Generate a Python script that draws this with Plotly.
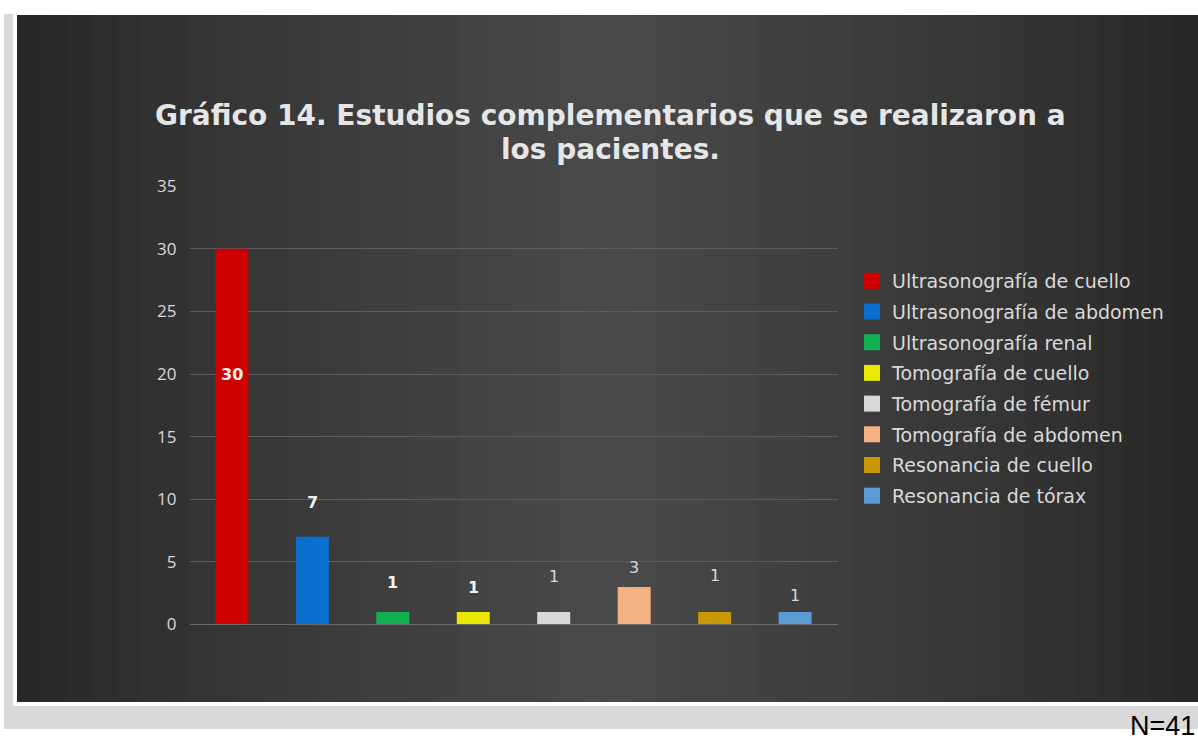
import plotly.graph_objects as go

categories = ["Ultrasonografía de cuello", "Ultrasonografía de abdomen", "Ultrasonografía renal",
              "Tomografía de cuello", "Tomografía de fémur", "Tomografía de abdomen",
              "Resonancia de cuello", "Resonancia de tórax"]
values = [30, 7, 1, 1, 1, 3, 1, 1]
colors = ["#d00000", "#0a70d0", "#10b050", "#e8e800", "#d9d9d9", "#f4b183", "#c99700", "#5b9bd5"]
label_bold = [True, True, True, True, False, False, False, False]
label_yshift = [62, 34, 29, 24, 35, 19, 36, 16]   # label offsets in px (styling)
y_ticks = [0, 5, 10, 15, 20, 25, 30, 35]

W, H = 1198, 740
Y_OFF, Y_SPAN = 10, 720   # observed vertical placement of the rendered figure
def px(x): return x / W
def py(y): return 1 - (y - Y_OFF) / Y_SPAN

fig = go.Figure()
for c, v, col in zip(categories, values, colors):
    fig.add_trace(go.Bar(x=[c], y=[v], name=c, marker=dict(color=col, line=dict(width=0)),
                         width=0.41, showlegend=False, hoverinfo="x+y"))
for c, col in zip(categories, colors):
    fig.add_trace(go.Scatter(x=[c], y=[None], mode="markers", name=c, legendgroup=c,
                             marker=dict(symbol="square", size=16, color=col),
                             hoverinfo="skip"))

shapes = []
shapes.append(dict(type="rect", xref="paper", yref="paper", x0=px(4), x1=px(13), y0=0, y1=py(12),
                   fillcolor="#dadada", line=dict(width=0), layer="below"))
shapes.append(dict(type="rect", xref="paper", yref="paper", x0=px(4), x1=1, y0=0, y1=py(707),
                   fillcolor="#d9d9d9", line=dict(width=0), layer="below"))
n = 48
x0p, x1p = 17, 1198
for i in range(n):
    a = x0p + (x1p - x0p) * i / n
    b = x0p + (x1p - x0p) * (i + 1) / n + 1
    t = (i + 0.5) / n
    d = 1 - abs(t - 0.5) * 2
    g = int(38 + 36 * (d ** 0.8))
    shapes.append(dict(type="rect", xref="paper", yref="paper", x0=px(a), x1=px(min(b, W)),
                       y0=py(703), y1=py(13), fillcolor=f"rgb({g},{g},{g})",
                       line=dict(width=0), layer="below"))

annotations = []
for i, (c, v, b) in enumerate(zip(categories, values, label_bold)):
    txt = f"<b>{v}</b>" if b else str(v)
    yv = v / 2 if v >= 20 else v
    annotations.append(dict(x=c, y=yv, text=txt, showarrow=False, yanchor="middle",
                            yshift=label_yshift[i],
                            font=dict(size=16, color="#f2f2f2" if b else "#d9d9d9",
                                      family="DejaVu Sans")))
annotations.append(dict(xref="paper", yref="paper", x=px(1197), y=py(727), xanchor="right",
                        yanchor="middle", text="N=41", showarrow=False,
                        font=dict(size=27, color="#000000", family="Liberation Sans")))
annotations.append(dict(xref="paper", yref="paper", x=px(610), y=py(114), xanchor="center",
                        yanchor="middle", showarrow=False,
                        text="<b>Gráfico 14. Estudios complementarios que se realizaron a</b>",
                        font=dict(size=28, color="#e6e6e6", family="DejaVu Sans")))
annotations.append(dict(xref="paper", yref="paper", x=px(610), y=py(148), xanchor="center",
                        yanchor="middle", showarrow=False,
                        text="<b>los pacientes.</b>",
                        font=dict(size=28, color="#e6e6e6", family="DejaVu Sans")))

fig.update_layout(
    width=W, height=H,
    margin=dict(l=0, r=0, t=0, b=0),
    paper_bgcolor="#ffffff",
    plot_bgcolor="rgba(0,0,0,0)",
    barmode="overlay",
    shapes=shapes,
    annotations=annotations,
    showlegend=True,
    legend=dict(x=px(852), y=py(261), xanchor="left", yanchor="top",
                font=dict(size=19, color="#d9d9d9", family="DejaVu Sans"),
                bgcolor="rgba(0,0,0,0)", tracegroupgap=3, itemwidth=30,
                itemsizing="trace"),
    xaxis=dict(domain=[px(189.5), px(837.5)], showticklabels=False, showgrid=False,
               zeroline=False, showline=True, linecolor="#6a6a6a", linewidth=1,
               categoryorder="array", categoryarray=categories),
    yaxis=dict(domain=[py(625), py(185)], range=[0, 35], tickvals=y_ticks,
               showgrid=True, gridcolor="#5c5c5c", gridwidth=1, zeroline=False,
               tickfont=dict(size=17, color="#d9d9d9", family="Open Sans"),
               ticks="", ticklabelstandoff=12),
)

fig.write_html("out.html", post_script=(
    "document.documentElement.style.background='linear-gradient(to bottom,#ffffff 50%,#d9d9d9 50%)';"
    "document.body.style.background='transparent';"))
